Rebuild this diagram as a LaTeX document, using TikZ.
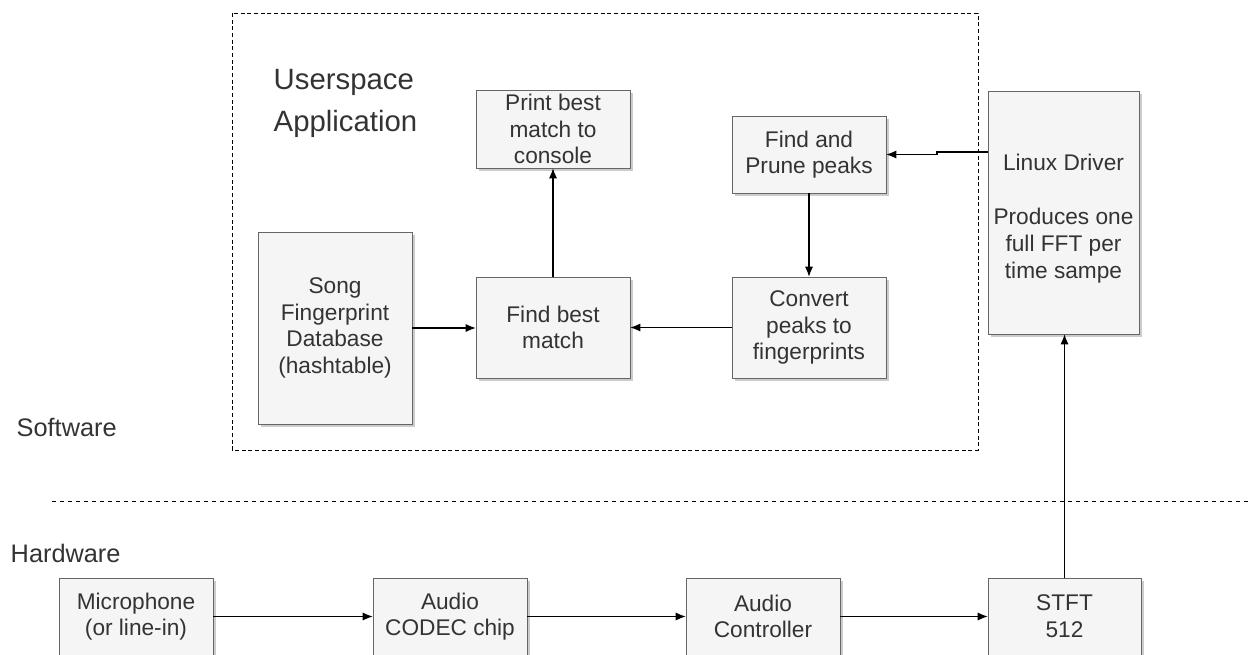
\documentclass[tikz,border=0pt]{standalone}
\usepackage{fontspec}
\setmainfont{Liberation Sans}
\usepackage{tikz}
\usetikzlibrary{shapes,positioning,shadows,fit,arrows.meta}
\usepackage{xcolor}
\definecolor{boxfill}{HTML}{F5F5F5}
\definecolor{boxline}{HTML}{666666}
\definecolor{txt}{HTML}{333333}

\begin{document}
\begin{tikzpicture}[x=0.75pt,y=-0.75pt]
        %styles
        \tikzstyle{block}=[rectangle, draw=boxline, fill=boxfill, align=center, text=txt, inner sep=2pt,
            font=\fontsize{17}{20}\selectfont, minimum width=115.5pt,
            drop shadow={shadow xshift=2pt, shadow yshift=-2pt, fill=black!40, opacity=0.5}]
        \tikzstyle{label}=[draw=none, text=txt, anchor=west, font=\fontsize{19}{22}\selectfont]
        \tikzstyle{title}=[draw=none, text=txt, anchor=north west, align=left, font=\fontsize{22}{31}\selectfont]
        \tikzstyle{commu}=[-{Latex[length=7.5pt,width=6pt]},line width=0.8pt,draw=black]

        \useasboundingbox (0,0) rectangle (1252,654);

        %container and layer line
        \draw[densely dashed, line width=0.6pt] (232,13) rectangle (978,450);
        \draw[dashed, line width=0.6pt] (52,501) -- (1252,501);

        %texts
        \node[title] (usr) at (269,65) {Userspace\\Application};
        \node[label] (sw) at (12,427) {Software};
        \node[label] (hw) at (6,553) {Hardware};

        %nodes
        \node[block, minimum height=58.5pt] (print) at (553,129) {Print best\\match to\\console};
        \node[block, minimum height=57.75pt] (prune) at (809,154.5) {Find and\\Prune peaks};
        \node[block, minimum width=113.25pt, minimum height=182.25pt] (linux) at (1063.5,212.5)
            {\mbox{}\\[1pt]Linux Driver\\[21pt]Produces one\\full FFT per\\time sampe};
        \node[block, minimum height=144pt] (song) at (335,328) {Song\\Fingerprint\\Database\\(hashtable)};
        \node[block, minimum height=75.75pt] (find) at (553,327.5) {Find best\\match};
        \node[block, minimum height=75.75pt] (conv) at (809,327.5) {Convert\\peaks to\\fingerprints};

        \node[block, minimum height=57.75pt] (mic) at (136,616.5) {Microphone\\(or line-in)};
        \node[block, minimum height=57.75pt] (codec) at (450,616.5) {Audio\\CODEC chip};
        \node[block, minimum height=57.75pt] (ctrl) at (763,616.5) {Audio\\Controller};
        \node[block, minimum width=114.75pt, minimum height=57.75pt] (stft) at (1064.5,616.5) {STFT\\512};

        \coordinate (kink) at (937,152);

        %arrows
        \draw[commu] (mic)--(codec);
        \draw[commu] (codec)--(ctrl);
        \draw[commu] (ctrl)--(stft);
        \draw[commu] (stft.north)--(stft.north |- linux.south);

        \draw[commu] (linux.west |- kink)--(kink)|-(prune.east);
        \draw[commu] (prune)--(conv);
        \draw[commu] (conv)--(find);
        \draw[commu] (song.east)--(song.east -| find.west);
        \draw[commu] (find)--(print);

\end{tikzpicture}
\end{document}
